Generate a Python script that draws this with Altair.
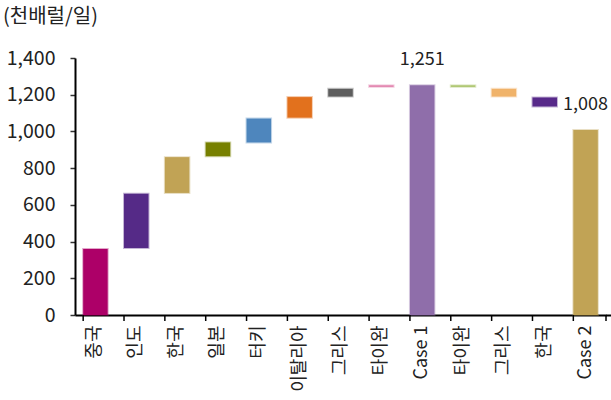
import json
import altair as alt
import pandas as pd

# ---- data ----
categories = ["중국", "인도", "한국", "일본", "터키", "이탈리아", "그리스", "타이완",
              "Case 1", "타이완", "그리스", "한국", "Case 2"]
bar_start = [0, 365, 665, 865, 940, 1075, 1190, 1243, 0, 1243, 1190, 1136, 0]
bar_end = [360, 660, 860, 940, 1070, 1187, 1232, 1251, 1251, 1251, 1232, 1185, 1008]
bar_colors = ["#AD0068", "#552A87", "#C1A355", "#778000", "#4E86BD", "#E2711D",
              "#5E5E5E", "#E07AA8", "#8F6EAA", "#A7C163", "#F0B36A", "#582A8A", "#C1A355"]
value_labels = ["", "", "", "", "", "", "", "", "1,251", "", "", "", "1,008"]
unit_title = "(천배럴/일)"
y_ticks = [0, 200, 400, 600, 800, 1000, 1200, 1400]

FONT = "Noto Sans CJK KR"
W, H = 531, 257

df = pd.DataFrame({
    "idx": list(range(len(categories))),
    "start": bar_start,
    "end": bar_end,
    "color": bar_colors,
    "lab": value_labels,
})

label_expr = json.dumps(categories, ensure_ascii=False) + "[datum.value]"

xscale = alt.Scale(paddingInner=0.4, paddingOuter=0.2)
yscale = alt.Scale(domain=[0, 1400], nice=False)

bars = alt.Chart(df).mark_bar(strokeWidth=2, strokeOpacity=0.35).encode(
    x=alt.X("idx:O", scale=xscale, sort=None, title=None),
    y=alt.Y("start:Q", scale=yscale, title=None,
            axis=alt.Axis(values=y_ticks, format=",d")),
    y2="end:Q",
    color=alt.Color("color:N", scale=None),
    stroke=alt.Stroke("color:N", scale=None),
)

ticks = alt.Chart(df).mark_rule(color="#000000", strokeWidth=1.5).encode(
    x=alt.X("idx:O", bandPosition=0, scale=xscale, sort=None, title=None),
    y=alt.value(H),
    y2=alt.value(H + 6),
)

end_tick = alt.Chart(pd.DataFrame({"a": [0]})).mark_rule(
    color="#000000", strokeWidth=1.5).encode(
    x=alt.value(W), y=alt.value(H), y2=alt.value(H + 6))

axis_ext = alt.Chart(pd.DataFrame({"a": [0]})).mark_rule(
    color="#000000", strokeWidth=2).encode(
    x=alt.value(W), x2=alt.value(W + 6), y=alt.value(H + 0.5))

texts = alt.Chart(df).transform_filter("datum.lab != ''").mark_text(
    font=FONT, fontSize=18, color="#222222", dy=-25, baseline="middle").encode(
    x=alt.X("idx:O", scale=xscale, sort=None, title=None),
    y=alt.Y("end:Q", scale=yscale, title=None,
            axis=alt.Axis(values=y_ticks, format=",d")),
    text="lab:N",
)

title = alt.Chart(pd.DataFrame({"t": [unit_title]})).mark_text(
    font=FONT, fontSize=20, color="#222222", align="left", baseline="middle").encode(
    x=alt.value(-72), y=alt.value(-41), text="t:N")

chart = alt.layer(bars, ticks, end_tick, axis_ext, texts, title).properties(
    width=W, height=H,
    autosize=alt.AutoSizeParams(type="none"),
    padding={"left": 75, "top": 58, "right": 5, "bottom": 85},
    background="#ffffff",
).configure_view(stroke=None).configure_axis(
    grid=False, domainColor="#000000", domainWidth=2,
    labelFont=FONT, labelColor="#222222",
).configure_axisX(
    labelExpr=label_expr, labelAngle=270, labelPadding=10, ticks=False,
    labelFontSize=18,
).configure_axisY(
    labelPadding=15, tickSize=5, tickColor="#333333", tickWidth=1.5,
    labelFontSize=19.5,
)

chart.save("out.html", embed_options={"renderer": "svg", "actions": False})
